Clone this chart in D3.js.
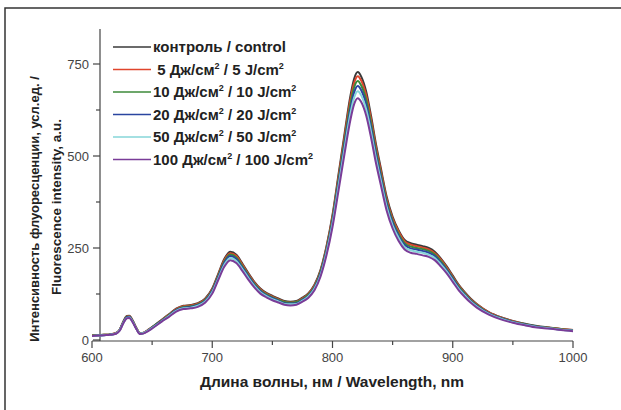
<!DOCTYPE html>
<html>
<head>
<meta charset="utf-8">
<script src="https://cdn.jsdelivr.net/npm/d3@7"></script>
<style>
  body { margin: 0; background: #fff; }
  text { font-family: Arial, "Liberation Sans", sans-serif; }
</style>
</head>
<body>
<div id="chart"></div>
<script>
// longueurs d'onde (nm)
const wavelengths = [600, 605, 610, 615, 620, 623, 626, 629, 631, 634, 637, 640, 643, 647, 652, 658, 664, 670, 676, 682, 688, 694, 700, 705, 710, 715, 720, 725, 730, 735, 740, 745, 750, 755, 760, 765, 770, 775, 780, 785, 790, 795, 800, 805, 810, 815, 818, 821, 824, 828, 832, 836, 840, 845, 850, 855, 860, 865, 870, 875, 880, 885, 890, 895, 900, 905, 910, 915, 920, 930, 940, 950, 960, 970, 980, 990, 1000];

const control = [12, 13, 14, 15, 19, 28, 50, 65, 66, 52, 32, 18, 20, 28, 40, 55, 70, 85, 93, 95, 100, 112, 140, 180, 220, 240, 232, 208, 182, 158, 140, 128, 120, 113, 106, 104, 106, 115, 127, 150, 190, 255, 340, 450, 560, 665, 710, 728, 715, 675, 610, 535, 470, 390, 335, 298, 272, 263, 259, 255, 250, 240, 222, 200, 175, 150, 130, 112, 98, 76, 62, 52, 44, 38, 34, 30, 27];
const dose5 = [12, 13, 14, 15, 19, 28, 49, 64, 65, 51, 32, 18, 20, 28, 39, 54, 69, 84, 92, 94, 99, 110, 138, 177, 217, 236, 229, 205, 179, 156, 138, 126, 118, 111, 104, 102, 104, 113, 125, 148, 187, 251, 335, 443, 552, 655, 699, 717, 704, 665, 601, 527, 463, 384, 330, 294, 268, 259, 255, 251, 246, 236, 219, 197, 172, 148, 128, 110, 97, 75, 61, 51, 43, 37, 33, 30, 27];
const dose10 = [12, 13, 14, 15, 18, 27, 48, 63, 64, 50, 31, 17, 19, 27, 39, 53, 68, 82, 90, 92, 97, 108, 135, 174, 213, 232, 224, 201, 176, 153, 135, 124, 116, 109, 103, 101, 103, 111, 123, 145, 184, 247, 329, 435, 542, 643, 687, 704, 691, 653, 590, 517, 454, 377, 324, 288, 263, 254, 250, 247, 242, 232, 215, 193, 169, 145, 126, 108, 95, 73, 60, 50, 43, 37, 33, 29, 26];
const dose20 = [11, 12, 13, 14, 18, 27, 47, 62, 63, 49, 30, 17, 19, 27, 38, 52, 66, 81, 88, 90, 95, 106, 133, 171, 209, 228, 220, 197, 173, 150, 133, 121, 114, 107, 100, 99, 100, 109, 120, 142, 180, 242, 322, 427, 531, 630, 673, 690, 678, 640, 578, 507, 446, 370, 318, 283, 258, 249, 246, 242, 237, 228, 210, 190, 166, 142, 123, 106, 93, 72, 59, 49, 42, 36, 32, 28, 26];
const dose50 = [11, 12, 13, 14, 18, 26, 46, 60, 61, 48, 30, 17, 19, 26, 37, 51, 65, 79, 86, 88, 93, 104, 130, 167, 204, 223, 215, 193, 169, 147, 130, 119, 111, 105, 98, 97, 98, 107, 118, 139, 176, 237, 316, 418, 520, 617, 659, 676, 664, 626, 566, 496, 436, 362, 311, 277, 252, 244, 240, 237, 232, 223, 206, 186, 162, 139, 121, 104, 91, 71, 58, 48, 41, 35, 32, 28, 25];
const dose100 = [11, 12, 13, 14, 17, 25, 45, 59, 60, 47, 29, 16, 18, 25, 36, 50, 63, 77, 84, 86, 90, 101, 126, 163, 199, 217, 209, 188, 164, 143, 126, 116, 108, 102, 96, 94, 96, 104, 115, 135, 172, 230, 307, 406, 506, 600, 641, 657, 646, 610, 551, 483, 424, 352, 303, 269, 246, 237, 234, 230, 226, 217, 200, 181, 158, 135, 117, 101, 88, 69, 56, 47, 40, 34, 31, 27, 24];

// "^" marque l'exposant 2
const seriesNames = ["контроль / control", " 5 Дж/см^ / 5 J/cm^", "10 Дж/см^ / 10 J/cm^", "20 Дж/см^ / 20 J/cm^", "50 Дж/см^ / 50 J/cm^", "100 Дж/см^ / 100 J/cm^"];
const seriesColors = ["#3a3a3a", "#e0452c", "#3c8a3a", "#2a45a0", "#86d6d8", "#7a3c98"];
const seriesValues = [control, dose5, dose10, dose20, dose50, dose100];

const xTicks = [600, 700, 800, 900, 1000];
const xMinor = [650, 750, 850, 950];
const yTicks = [0, 250, 500, 750];
const yMinor = [125, 375, 625];

const width = 621, height = 410;

const svg = d3.select("#chart").append("svg")
    .attr("width", width)
    .attr("height", height);

// cadre
svg.append("rect")
    .attr("x", 5).attr("y", 8)
    .attr("width", 640).attr("height", 420)
    .attr("fill", "none")
    .attr("stroke", "#333")
    .attr("stroke-width", 1.5);

const x = d3.scaleLinear().domain([600, 1000]).range([92, 573]);
const y = d3.scaleLinear().domain([0, 750]).range([340, 64]);

// axe x
const xAxis = svg.append("g").attr("transform", "translate(0,341)");
xAxis.append("line")
    .attr("x1", x(600)).attr("x2", x(1000))
    .attr("stroke", "#444").attr("stroke-width", 1.2);
xAxis.selectAll(".maj").data(xTicks).join("line")
    .attr("x1", d => x(d)).attr("x2", d => x(d))
    .attr("y1", 0).attr("y2", 7)
    .attr("stroke", "#444").attr("stroke-width", 1.2);
xAxis.selectAll(".min").data(xMinor).join("line")
    .attr("x1", d => x(d)).attr("x2", d => x(d))
    .attr("y1", 0).attr("y2", 4)
    .attr("stroke", "#444").attr("stroke-width", 1.2);
xAxis.selectAll("text").data(xTicks).join("text")
    .attr("x", d => x(d)).attr("y", 21)
    .attr("text-anchor", "middle")
    .attr("font-size", 13)
    .attr("fill", "#444")
    .text(d => d);

// axe y (decalé a x=100)
const yAxis = svg.append("g").attr("transform", "translate(100,0)");
yAxis.append("line")
    .attr("y1", y(845)).attr("y2", y(0) + 1)
    .attr("stroke", "#444").attr("stroke-width", 1.2);
yAxis.selectAll(".maj").data(yTicks).join("line")
    .attr("y1", d => y(d)).attr("y2", d => y(d))
    .attr("x1", -7).attr("x2", 0)
    .attr("stroke", "#444").attr("stroke-width", 1.2);
yAxis.selectAll(".min").data(yMinor).join("line")
    .attr("y1", d => y(d)).attr("y2", d => y(d))
    .attr("x1", -4).attr("x2", 0)
    .attr("stroke", "#444").attr("stroke-width", 1.2);
yAxis.selectAll("text").data(yTicks).join("text")
    .attr("x", -11).attr("y", d => y(d) + 4.5)
    .attr("text-anchor", "end")
    .attr("font-size", 13)
    .attr("fill", "#444")
    .text(d => d);

// courbes
const line = d3.line()
    .x((d, i) => x(wavelengths[i]))
    .y(d => y(d))
    .curve(d3.curveMonotoneX);

svg.append("g").selectAll("path")
    .data(seriesValues)
    .join("path")
    .attr("d", d => line(d))
    .attr("fill", "none")
    .attr("stroke", (d, i) => seriesColors[i])
    .attr("stroke-width", 2);

// legende
const legend = svg.append("g");
seriesNames.forEach((name, i) => {
    const ly = 47 + i * 22.5;
    legend.append("line")
        .attr("x1", 113).attr("x2", 151)
        .attr("y1", ly).attr("y2", ly)
        .attr("stroke", seriesColors[i])
        .attr("stroke-width", 1.5);
    const t = legend.append("text")
        .attr("x", 153).attr("y", ly + 5)
        .attr("font-size", 15)
        .attr("font-weight", "bold")
        .attr("fill", "#222")
        .style("white-space", "pre");
    name.split("^").forEach((p, j) => {
        if (j > 0) {
            t.append("tspan").attr("dy", -6).attr("font-size", 9).text("2");
            t.append("tspan").attr("dy", 6).text(p);
        } else {
            t.append("tspan").text(p);
        }
    });
});

// titres des axes
svg.append("text")
    .attr("transform", "translate(39,209) rotate(-90)")
    .attr("text-anchor", "middle")
    .attr("font-size", 13)
    .attr("font-weight", "bold")
    .attr("fill", "#222")
    .text("Интенсивность флуоресценции, усл.ед. /");
svg.append("text")
    .attr("transform", "translate(61,207) rotate(-90)")
    .attr("text-anchor", "middle")
    .attr("font-size", 13.5)
    .attr("font-weight", "bold")
    .attr("fill", "#222")
    .text("Fluorescence intensity, a.u.");

svg.append("text")
    .attr("x", 332).attr("y", 387)
    .attr("text-anchor", "middle")
    .attr("font-size", 15.5)
    .attr("font-weight", "bold")
    .attr("fill", "#222")
    .text("Длина волны, нм / Wavelength, nm");
</script>
</body>
</html>
